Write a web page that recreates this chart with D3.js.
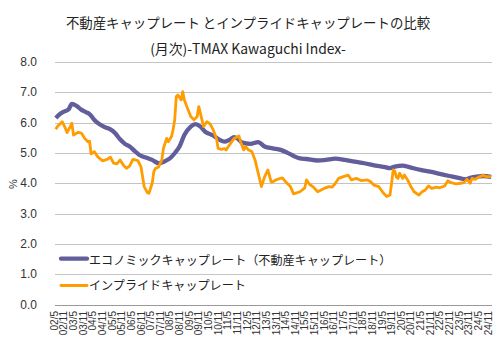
<!DOCTYPE html>
<html><head><meta charset="utf-8">
<script src="https://cdn.jsdelivr.net/npm/d3@7"></script>
<style>
html,body{margin:0;padding:0;background:#fff;}
svg{display:block;}
</style></head>
<body>
<svg id="chart" width="501" height="358"></svg>
<script>
const title1 = "不動産キャップレート とインプライドキャップレートの比較";
const title2 = "(月次)-TMAX Kawaguchi Index-";
const seriesNames = ["エコノミックキャップレート（不動産キャップレート）", "インプライドキャップレート"];
const yTicks = [0, 1, 2, 3, 4, 5, 6, 7, 8];
const tickLabels = ["02/5","02/11","03/5","03/11","04/5","04/11","05/5","05/11","06/5","06/11","07/5","07/11","08/5","08/11","09/5","09/11","10/5","10/11","11/5","11/11","12/5","12/11","13/5","13/11","14/5","14/11","15/5","15/11","16/5","16/11","17/5","17/11","18/5","18/11","19/5","19/11","20/5","20/11","21/5","21/11","22/5","22/11","23/5","23/11","24/5","24/11"];

const econMonths = ["02/5","02/8","02/10","03/1","03/3","03/6","03/9","03/12","04/2","04/5","04/9","04/12","05/3","05/6","05/9","05/12","06/3","06/6","06/9","07/1","07/5","07/9","08/1","08/4","08/7","08/10","09/1","09/5","09/8","09/11","10/2","10/5","10/8","10/11","11/2","11/5","11/8","11/10","12/1","12/6","12/11","13/3","13/8","14/1","14/5","14/9","15/1","15/5","15/12","16/5","16/11","17/5","17/11","18/5","18/12","19/6","19/9","19/12","20/5","20/9","21/4","21/10","22/4","22/10","23/5","23/8","23/11","24/3","24/7","24/12"];
const econValues = [6.15,6.30,6.36,6.44,6.62,6.55,6.42,6.34,6.28,6.09,5.92,5.84,5.78,5.65,5.45,5.30,5.21,5.07,4.93,4.85,4.77,4.66,4.73,4.82,4.99,5.21,5.59,5.87,5.95,5.87,5.70,5.62,5.54,5.43,5.37,5.43,5.52,5.48,5.34,5.30,5.36,5.21,5.15,5.10,5.01,4.90,4.82,4.80,4.75,4.77,4.81,4.77,4.71,4.66,4.58,4.53,4.50,4.55,4.58,4.53,4.44,4.38,4.31,4.24,4.16,4.13,4.18,4.22,4.24,4.21];

const implMonths = ["02/5","02/6","02/9","02/11","02/12","03/2","03/3","03/4","03/7","03/9","03/11","04/1","04/2","04/3","04/5","04/7","04/10","05/1","05/3","05/5","05/7","05/9","05/11","06/1","06/3","06/5","06/8","06/10","06/11","06/12","07/2","07/3","07/5","07/6","07/7","07/9","07/11","07/12","08/2","08/3","08/4","08/5","08/6","08/7","08/8","08/9","08/11","08/12","09/1","09/3","09/5","09/7","09/9","09/10","09/12","10/1","10/3","10/5","10/7","10/9","10/10","10/12","11/2","11/3","11/5","11/8","11/11","11/12","12/2","12/3","12/5","12/7","12/9","12/11","13/1","13/3","13/5","13/7","13/8","13/10","14/2","14/4","14/7","14/9","15/1","15/4","15/5","15/7","15/9","15/12","16/4","16/7","16/9","16/11","17/1","17/4","17/7","17/9","17/12","18/3","18/7","18/9","18/11","19/2","19/5","19/7","19/9","19/10","19/11","19/12","20/1","20/2","20/3","20/5","20/6","20/8","20/10","20/12","21/3","21/5","21/7","21/9","21/11","22/2","22/4","22/7","22/9","22/11","23/2","23/5","23/7","23/9","23/11","23/12","24/2","24/5","24/7","24/9","24/12"];
const implValues = [5.78,5.87,6.03,5.81,5.67,5.87,5.98,5.59,5.68,5.65,5.48,5.37,5.39,4.97,5.04,4.88,4.74,4.79,4.86,4.66,4.64,4.77,4.60,4.49,4.57,4.79,4.75,4.55,4.22,3.89,3.69,3.67,4.00,4.38,4.49,4.54,4.77,5.15,5.48,5.37,5.45,5.54,5.76,6.09,6.86,6.91,6.75,7.02,6.75,6.47,6.20,6.09,6.20,6.53,6.09,5.87,6.03,5.96,5.76,5.48,5.15,5.12,5.14,5.10,5.26,5.48,5.56,5.37,5.10,5.21,5.10,5.05,4.77,4.33,3.89,4.22,4.44,4.05,4.05,4.11,4.18,4.05,3.89,3.65,3.72,3.85,4.11,3.96,3.89,3.72,3.83,3.89,3.87,4.00,4.16,4.22,4.27,4.11,4.16,4.09,4.11,4.05,3.94,3.89,3.67,3.56,3.61,4.00,4.44,4.40,4.20,4.16,4.33,4.16,4.27,4.11,3.89,3.72,3.61,3.72,3.78,3.91,3.83,3.87,3.85,3.91,4.08,4.02,3.98,4.00,4.02,4.13,4.00,4.16,4.13,4.22,4.26,4.22,4.22];

// category domain: every month 2002/5 .. 2024/12
const categories = [];
for (let yr = 2002; yr <= 2024; yr++) {
  for (let m = 1; m <= 12; m++) {
    if (yr === 2002 && m < 5) continue;
    categories.push(String(yr % 100).padStart(2, "0") + "/" + m);
  }
}

const purple = "#615E9B";
const orange = "#FF9C00";
const svg = d3.select("#chart");
const plotLeft = 55, plotRight = 492, plotTop = 62, plotBottom = 304.5;

const x = d3.scalePoint().domain(categories).range([plotLeft, plotRight]).padding(0.5);
const y = d3.scaleLinear().domain([0, 8]).range([plotBottom, plotTop]);

// titles
svg.append("text").attr("x", 248).attr("y", 21.5).attr("text-anchor", "middle")
  .attr("dominant-baseline", "central")
  .style("font-family", "'Noto Sans CJK JP', sans-serif").style("font-size", "13.4px").attr("fill", "#222")
  .text(title1);
svg.append("text").attr("x", 248).attr("y", 47.5).attr("text-anchor", "middle")
  .attr("dominant-baseline", "central")
  .style("font-family", "'Noto Sans CJK JP', sans-serif").style("font-size", "13.9px").attr("fill", "#222")
  .text(title2);

// gridlines
svg.append("g").selectAll("line").data(yTicks).join("line")
  .attr("x1", plotLeft).attr("x2", plotRight)
  .attr("y1", d => Math.round(y(d)) + 0.5).attr("y2", d => Math.round(y(d)) + 0.5)
  .attr("stroke", d => d === 0 ? "#999" : "#c4c4c4").attr("stroke-width", 1);

// y axis labels
svg.append("g").selectAll("text").data(yTicks).join("text")
  .attr("x", 37).attr("y", d => y(d)).attr("text-anchor", "end")
  .attr("dominant-baseline", "central")
  .style("font-family", "'Liberation Sans', Arial, sans-serif").style("font-size", "12px").attr("fill", "#333")
  .text(d3.format(".1f"));

svg.append("text").attr("transform", "translate(13,184) rotate(-90)")
  .attr("text-anchor", "middle").attr("dominant-baseline", "central")
  .style("font-family", "'Liberation Sans', Arial, sans-serif").style("font-size", "11px").attr("fill", "#333")
  .text("%");

// x axis labels
svg.append("g").selectAll("text").data(tickLabels).join("text")
  .attr("transform", d => `translate(${x(d) - 1.5},311) rotate(-90)`)
  .attr("text-anchor", "end").attr("dy", "0.35em")
  .style("font-family", "'Liberation Sans', Arial, sans-serif").style("font-size", "10px").attr("fill", "#333")
  .text(d => d);

// lines
const econData = econMonths.map((m, i) => ({ m, v: econValues[i] }));
const implData = implMonths.map((m, i) => ({ m, v: implValues[i] }));

const lineE = d3.line().x(d => x(d.m)).y(d => y(d.v)).curve(d3.curveMonotoneX);
const lineI = d3.line().x(d => x(d.m)).y(d => y(d.v));

svg.append("path").datum(econData).attr("d", lineE).attr("fill", "none")
  .attr("stroke", purple).attr("stroke-width", 4.3).attr("stroke-linejoin", "round");
svg.append("path").datum(implData).attr("d", lineI).attr("fill", "none")
  .attr("stroke", orange).attr("stroke-width", 2.8).attr("stroke-linejoin", "round");

// legend
const legend = [
  { name: seriesNames[0], color: purple, w: 4.3, ly: 258.7, ty: 259 },
  { name: seriesNames[1], color: orange, w: 2.8, ly: 285.5, ty: 284 }
];
const lg = svg.append("g");
legend.forEach(l => {
  lg.append("line").attr("x1", 61).attr("x2", 87).attr("y1", l.ly).attr("y2", l.ly)
    .attr("stroke", l.color).attr("stroke-width", l.w).attr("stroke-linecap", "round");
  lg.append("text").attr("x", 89).attr("y", l.ty).attr("dominant-baseline", "central")
    .style("font-family", "'Noto Sans CJK JP', sans-serif").style("font-size", "12.1px").attr("fill", "#222")
    .text(l.name);
});
</script>
</body></html>
